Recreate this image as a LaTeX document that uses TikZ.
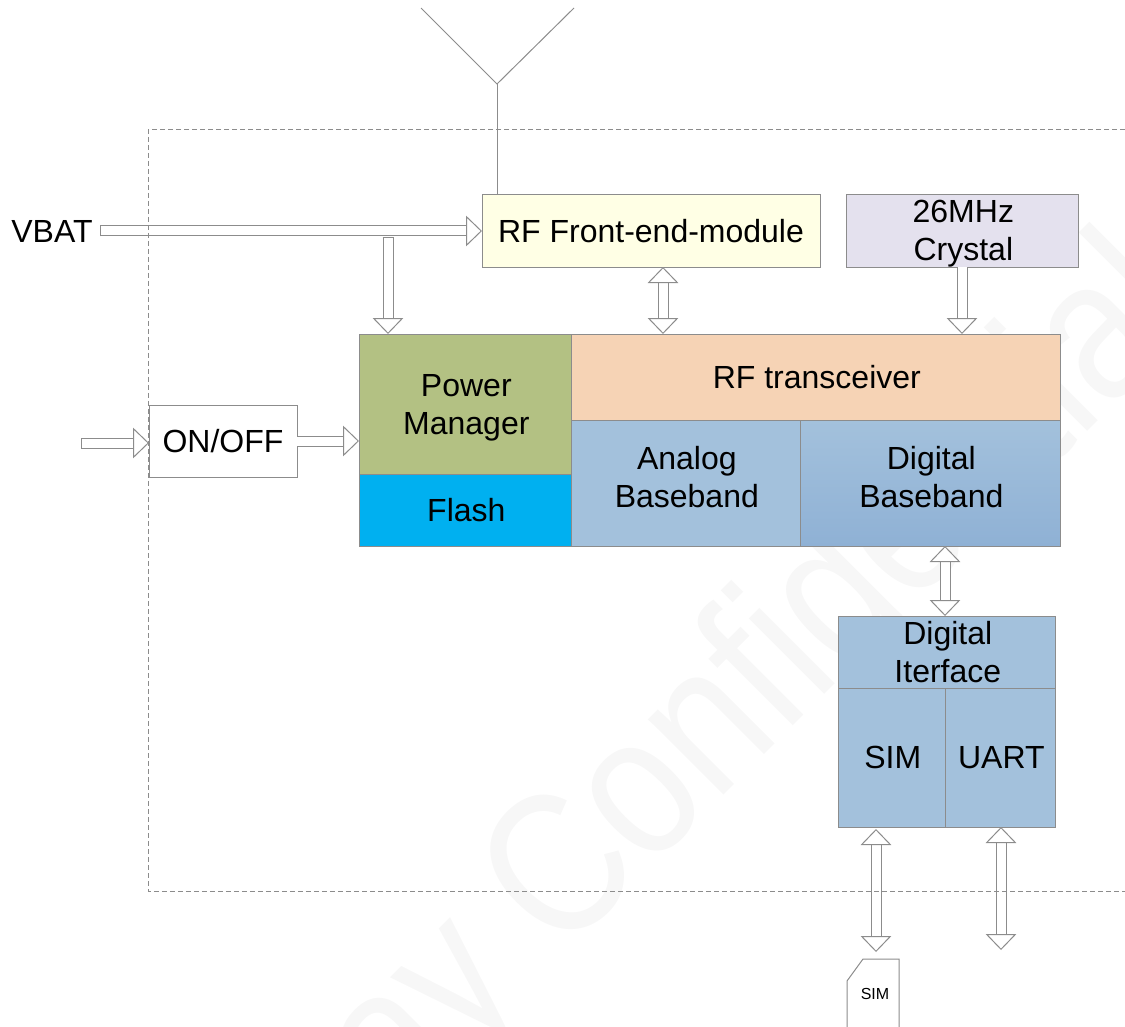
\documentclass[tikz,border=0pt]{standalone}
\usepackage{fontspec}
\setmainfont{Liberation Sans}
\usetikzlibrary{arrows.meta}
\definecolor{linegray}{HTML}{8C8C8C}
\definecolor{femyellow}{HTML}{FFFFE5}
\definecolor{xtalviolet}{HTML}{E4E1EE}
\definecolor{pmgreen}{HTML}{B3C183}
\definecolor{flashblue}{HTML}{00B0F0}
\definecolor{trxorange}{HTML}{F6D3B5}
\definecolor{bbblue}{HTML}{A3C1DC}
\definecolor{bbdark}{HTML}{8FB1D5}
\definecolor{markgray}{HTML}{F7F7F7}
\begin{document}
\begin{tikzpicture}[x=0.75pt, y=-0.75pt]
\tikzset{
    every node/.style={align=center, font=\fontsize{24}{28.5}\selectfont},
    blk/.style 2 args={draw=linegray, line width=0.75pt, inner sep=0pt, outer sep=0pt, anchor=north west,
        minimum width=#1*0.75pt, minimum height=#2*0.75pt},
    cap/.style 2 args={label={[xshift=1pt, yshift=#1]center:#2}},
    flow/.style={draw=linegray, line width=0.75pt, double=white, double distance=6.75pt,
        >={Triangle[open, fill=white, length=12pt, width=23pt, line width=0.75pt]}},
    one way/.style={flow, ->},
    one way closed/.style={flow, {Bar[width=8.25pt, line width=0.75pt]}->},
    two way/.style={flow, <->},
    frame line/.style={draw=linegray, line width=0.75pt, dash pattern=on 4pt off 2pt},
    thin line/.style={draw=linegray, line width=0.75pt}
}

\useasboundingbox (0,0) rectangle (1125,1027);
\clip (0,0) rectangle (1125,1027);

\node[font=\fontsize{151.5}{151.5}\selectfont, text=markgray, rotate=45, anchor=base west, inner sep=0pt] (mark) at (398,1121) {\scalebox{0.85}[1]{ay Confidential}};

\node[blk={338}{72}, fill=femyellow] (fem) at (482,195) {RF Front-end-module};
\node[blk={232}{72}, fill=xtalviolet, cap={-2.25pt}{26MHz\\Crystal}] (xtal) at (846,195) {};
\node[blk={212}{140}, fill=pmgreen, cap={-3pt}{Power\\Manager}] (power) at (359,334) {};
\node[blk={212}{72}, fill=flashblue, cap={0pt}{Flash}] (flash) at (359,474) {};
\node[blk={489}{86}, fill=trxorange, cap={0pt}{RF transceiver}] (trx) at (571,334) {};
\node[blk={229}{126}, fill=bbblue, cap={4.5pt}{Analog\\Baseband}] (abb) at (571,420) {};
\node[blk={260}{126}, top color=bbblue, bottom color=bbdark, cap={4.5pt}{Digital\\Baseband}] (dbb) at (800,420) {};
\node[blk={217}{72}, fill=bbblue, cap={0pt}{Digital\\Iterface}] (iface) at (838,616) {};
\node[blk={107}{139}, fill=bbblue, cap={0pt}{SIM}] (sim) at (838,688) {};
\node[blk={110}{139}, fill=bbblue, cap={0pt}{UART}] (uart) at (945,688) {};
\node[blk={148}{72}, fill=white] (onoff) at (149,405) {ON/OFF};
\node[inner sep=5.25pt] (vbat) at (52,231) {VBAT};
\node[font=\fontsize{12}{14}\selectfont] (card) at (875,994) {SIM};

\coordinate (antleft) at (421,8);
\coordinate (antright) at (574,8);
\coordinate (antfoot) at (497,84);
\coordinate (tap) at (388,237);
\coordinate (femlink) at (663,300);
\coordinate (ifacelink) at (945,580);
\coordinate (onin) at (81,443);
\coordinate (simtop) at (876,829);
\coordinate (simend) at (876,952);
\coordinate (uartend) at (1001,950);

\draw[thin line] (antleft) -- (antfoot) -- (antright);
\draw[thin line] (antfoot) -- (antfoot |- fem.north);
\draw[one way closed] (vbat.east) -- (fem.west);
\draw[one way closed] (tap) -- (tap |- power.north);
\draw[two way] (femlink |- fem.south) -- (femlink |- trx.north);
\draw[one way] (xtal.south) -- (xtal.south |- trx.north);
\draw[one way closed] (onin) -- (onin -| onoff.west);
\draw[one way] (onoff.east) -- (onoff.east -| power.west);
\draw[two way] (ifacelink |- dbb.south) -- (ifacelink |- iface.north);
\draw[two way] (simtop) -- (simend);
\draw[two way] (uart.south -| uartend) -- (uartend);

\draw[thin line] (847,1027) -- (847,981) -- (863,959) -- (899,959) -- (899,1027);
\draw[frame line] (1125,130) -- (148,130) -- (148,891) -- (1125,891);
\end{tikzpicture}
\end{document}
